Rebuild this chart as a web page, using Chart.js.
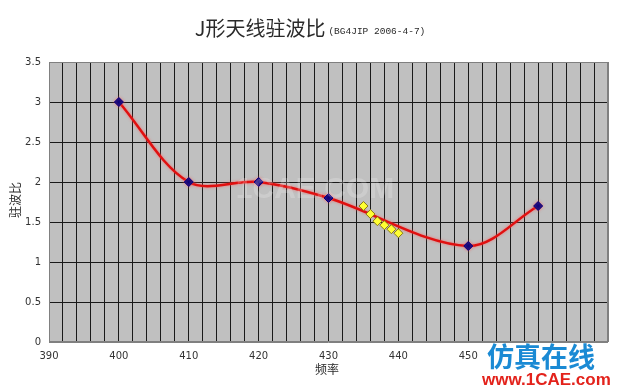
<!DOCTYPE html>
<html><head><meta charset="utf-8">
<script src="https://cdn.jsdelivr.net/npm/chart.js@4/dist/chart.umd.min.js"></script>
<style>html,body{margin:0;padding:0;background:#fff;} canvas{display:block}</style>
</head><body>
<canvas id="c" width="626" height="387"></canvas>
<script>
// ---- data ----
const frequencies = [400, 410, 420, 430, 450, 460];
const swrValues = [3.0, 2.0, 2.0, 1.8, 1.2, 1.7];
const measuredFreqs = [435, 436, 437, 438, 439, 440];
const measuredSwr = [1.70, 1.60, 1.51, 1.46, 1.41, 1.36];
const xTickLabels = [390, 400, 410, 420, 430, 440, 450];
const yTickLabels = [0, 0.5, 1, 1.5, 2, 2.5, 3, 3.5];
const titleMain = 'J形天线驻波比';
const titleSub = '(BG4JIP 2006-4-7)';
const xTitle = '频率';
const yTitle = '驻波比';

const CJK = '"Noto Sans CJK SC", sans-serif';

const bgPlugin = {
  id: 'bg',
  beforeDraw(chart) {
    const {ctx, chartArea: a} = chart;
    ctx.save();
    ctx.fillStyle = '#c0c0c0';
    ctx.fillRect(a.left, a.top, a.right - a.left, a.bottom - a.top);
    ctx.restore();
  },
  beforeDatasetDraw(chart, args) {
    if (args.index === 0) {
      chart.ctx.save();
      chart.ctx.shadowColor = 'rgba(255,90,90,0.75)';
      chart.ctx.shadowBlur = 3;
    }
  },
  afterDatasetDraw(chart, args) {
    if (args.index === 0) chart.ctx.restore();
  },
  afterDraw(chart) {
    const {ctx, chartArea: a} = chart;
    ctx.save();
    ctx.strokeStyle = '#808080';
    ctx.lineWidth = 1;
    ctx.strokeRect(a.left + 0.5, a.top + 0.5, a.right - a.left - 1, a.bottom - a.top - 1);
    // title
    ctx.fillStyle = '#2a2a2a';
    ctx.textBaseline = 'middle';
    ctx.font = '20px ' + CJK;
    const w1 = ctx.measureText(titleMain).width;
    ctx.font = '9.5px "Liberation Mono", monospace';
    const w2 = ctx.measureText(titleSub).width;
    const start = 310 - (w1 + w2 + 3) / 2;
    ctx.font = '20px ' + CJK;
    ctx.textAlign = 'left';
    ctx.fillText(titleMain, start, 28);
    ctx.font = '9.5px "Liberation Mono", monospace';
    ctx.fillText(titleSub, start + w1 + 3, 31);
    // axis titles
    ctx.font = '12px ' + CJK;
    ctx.textAlign = 'center';
    ctx.fillText(xTitle, 327, 369);
    ctx.save();
    ctx.translate(15, 200);
    ctx.rotate(-Math.PI / 2);
    ctx.fillText(yTitle, 0, 0);
    ctx.restore();
    // faint centre watermark
    ctx.fillStyle = 'rgba(255,255,255,0.2)';
    ctx.font = 'bold 30px "Liberation Sans", sans-serif';
    ctx.fillText('1CAE.COM', 315, 190);
    // corner watermark
    ctx.fillStyle = '#1a8ad4';
    ctx.font = 'bold 27px ' + CJK;
    ctx.fillText('仿真在线', 541, 357);
    ctx.fillStyle = '#e3221b';
    ctx.font = 'bold 17px "Liberation Sans", sans-serif';
    ctx.textAlign = 'left';
    ctx.fillText('www.1CAE.com', 482, 380);
    ctx.restore();
  }
};

const edgeGray = '#808080';
new Chart(document.getElementById('c'), {
  type: 'line',
  data: {
    datasets: [
      {
        data: frequencies.map((f, i) => ({x: f, y: swrValues[i]})),
        borderColor: '#e01010',
        borderWidth: 2.5,
        tension: 0.33,
        pointStyle: 'rectRot',
        pointRadius: 4.5,
        pointBackgroundColor: '#000080',
        pointBorderColor: '#000080',
        pointBorderWidth: 1,
        order: 2
      },
      {
        data: measuredFreqs.map((f, i) => ({x: f, y: measuredSwr[i]})),
        showLine: false,
        pointStyle: 'rectRot',
        pointRadius: 4.5,
        pointBackgroundColor: '#ffff33',
        pointBorderColor: '#8a7a10',
        pointBorderWidth: 1,
        order: 1
      }
    ]
  },
  options: {
    responsive: false,
    animation: false,
    layout: {padding: {top: 62, right: 18, left: 0, bottom: 0}},
    plugins: {legend: {display: false}, tooltip: {enabled: false}, title: {display: false}},
    scales: {
      x: {
        type: 'linear', min: 390, max: 470,
        afterFit(s) { s.height = 45; },
        border: {display: false},
        grid: {
          color: c => (c.tick && (c.tick.value === 390 || c.tick.value === 470)) ? edgeGray : '#1a1a1a',
          lineWidth: 1, drawTicks: false, tickLength: 0
        },
        ticks: {
          stepSize: 2, autoSkip: false, maxRotation: 0, padding: 8,
          color: '#333', font: {size: 10, family: '"DejaVu Sans", sans-serif'},
          callback: v => xTickLabels.includes(v) ? String(v) : ''
        }
      },
      y: {
        min: 0, max: 3.5,
        afterFit(s) { s.width = 49; },
        border: {display: false},
        grid: {
          color: c => (c.tick && (c.tick.value === 0 || c.tick.value === 3.5)) ? edgeGray : '#1a1a1a',
          lineWidth: 1, drawTicks: false, tickLength: 0
        },
        ticks: {
          stepSize: 0.5, padding: 8,
          color: '#333', font: {size: 10, family: '"DejaVu Sans", sans-serif'},
          callback: v => yTickLabels.includes(v) ? String(v) : ''
        }
      }
    }
  },
  plugins: [bgPlugin]
});
</script>
</body></html>
